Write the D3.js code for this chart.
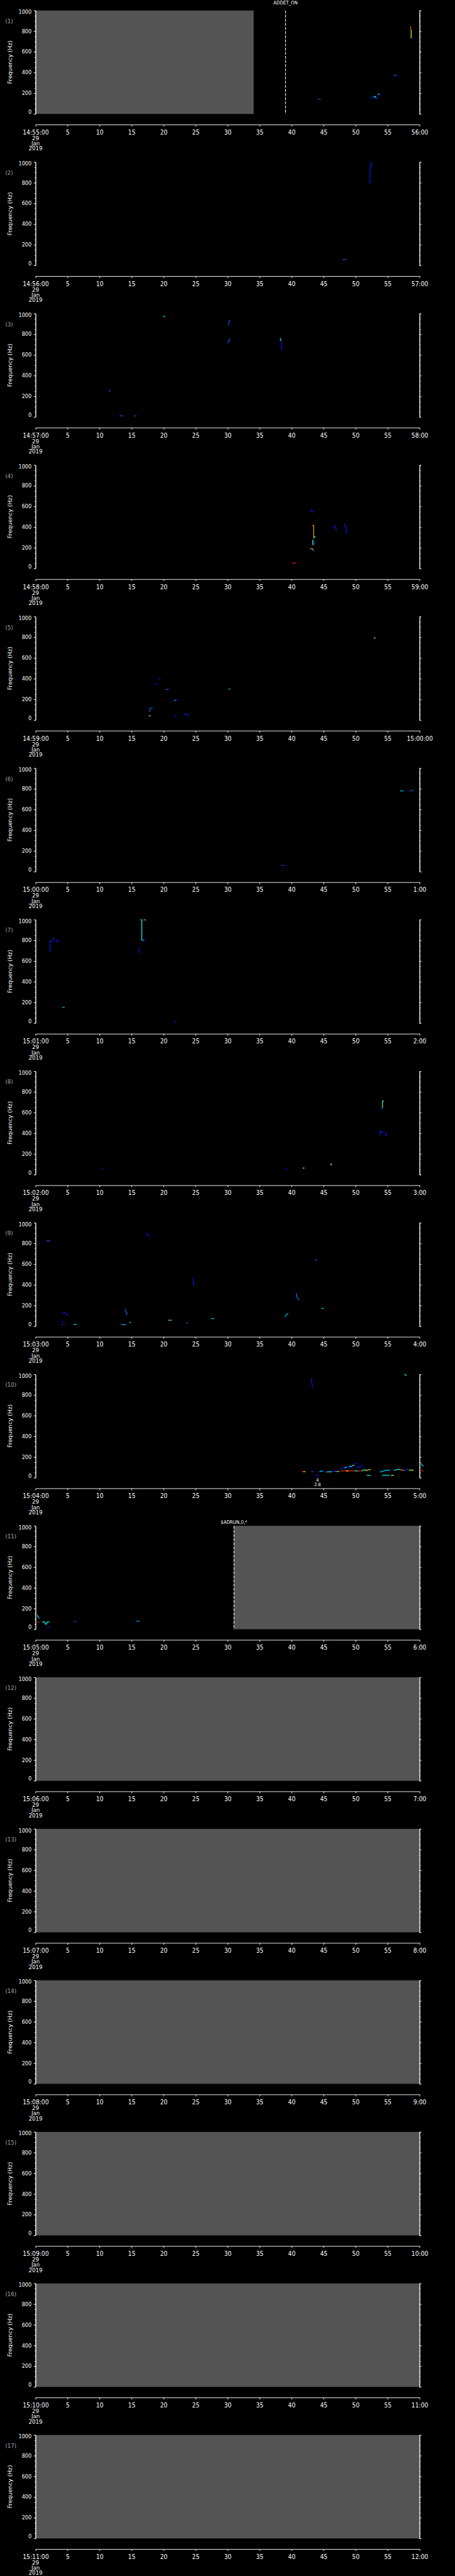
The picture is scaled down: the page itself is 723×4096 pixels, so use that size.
<!DOCTYPE html>
<html>
<head>
<meta charset="utf-8">
<script src="https://cdn.jsdelivr.net/npm/d3@7"></script>
<style>
  body { margin: 0; background: #000; }
  svg { display: block; }
</style>
</head>
<body>
<div id="chart"></div>
<script>
// start time of each one-minute panel, 29 Jan 2019
const panelStarts = ['14:55:00', '14:56:00', '14:57:00', '14:58:00', '14:59:00', '15:00:00',
  '15:01:00', '15:02:00', '15:03:00', '15:04:00', '15:05:00', '15:06:00', '15:07:00',
  '15:08:00', '15:09:00', '15:10:00', '15:11:00'];
const panelDate = '2019-01-29';

// y axis ticks (Hz)
const freqTicks = [0, 200, 400, 600, 800, 1000];
const freqMinor = d3.range(0, 1001, 50);
// x axis ticks (seconds into the minute)
const secTicks = d3.range(0, 61, 5);

// no-data (grey) spans: [panel, startSec, endSec]
const greySpans = [[1, 0, 34.07], [11, 31.0, 60], [12, 0, 60], [13, 0, 60], [14, 0, 60],
  [15, 0, 60], [16, 0, 60], [17, 0, 60]];

// event markers: [panel, sec, label, labelRow]
const events = [[1, 39.05, 'ADDET_ON', 0], [11, 31.0, '$ADRUN,0,*', 1]];

// small annotation under panel 10
const notes = [[10, 44.05, ['4', '2.8']]];

// detected tracks: p = panel, c = colour level (0..1), pts = [sec, Hz]
const traces = [
  {p: 1, c: .22, pts: [[44.2, 143], [44.5, 143]]},
  {p: 1, c: .15, pts: [[52.42, 154], [52.7, 154], [52.8, 166]]},
  {p: 1, c: .37, pts: [[52.86, 169], [53.1, 169], [53.16, 160], [53.16, 154]]},
  {p: 1, c: .15, pts: [[53.16, 153], [53.44, 153]]},
  {p: 1, c: .37, pts: [[53.5, 191], [53.7, 191]]},
  {p: 1, c: .15, pts: [[53.72, 186], [53.8, 179]]},
  {p: 1, c: .22, pts: [[56.0, 375], [56.4, 375]]},
  {p: 1, c: .8, pts: [[58.55, 845], [58.6, 845], [58.6, 812]]},
  {p: 1, c: .6, pts: [[58.68, 808], [58.68, 733]]},
  {p: 1, c: .15, pts: [[58.68, 731], [58.85, 729]]},

  {p: 2, c: .15, pts: [[52.42, 1000], [52.42, 950], [52.25, 942], [52.25, 805], [52.1, 802]]},
  {p: 2, c: .84, pts: [[48.05, 57], [48.2, 57]]},
  {p: 2, c: .2, pts: [[48.2, 57], [48.5, 57]]},

  {p: 3, c: .37, pts: [[20.0, 975], [20.2, 972]]},
  {p: 3, c: .22, pts: [[30.3, 935], [30.2, 905], [30.15, 891]]},
  {p: 3, c: .22, pts: [[30.3, 755], [30.25, 730], [30.0, 718]]},
  {p: 3, c: .37, pts: [[38.22, 760], [38.32, 735]]},
  {p: 3, c: .15, pts: [[38.38, 735], [38.42, 647]]},
  {p: 3, c: .22, pts: [[11.6, 260], [11.55, 246]]},
  {p: 3, c: .22, pts: [[13.2, 11], [13.6, 11]]},
  {p: 3, c: .22, pts: [[15.45, 11], [15.7, 11]]},

  {p: 4, c: .15, pts: [[43.05, 570], [43.1, 553], [43.3, 553], [43.4, 545]]},
  {p: 4, c: .72, pts: [[43.3, 417], [43.45, 417], [43.45, 295]]},
  {p: 4, c: .4, pts: [[43.5, 300], [43.7, 310]]},
  {p: 4, c: .45, pts: [[43.3, 275], [43.3, 230]]},
  {p: 4, c: .22, pts: [[43.5, 265], [43.5, 230]]},
  {p: 4, c: .72, pts: [[42.95, 190], [43.2, 195], [43.3, 182]]},
  {p: 4, c: .22, pts: [[43.4, 185], [43.5, 170]]},
  {p: 4, c: .84, pts: [[40.2, 54], [40.6, 54]]},
  {p: 4, c: .15, pts: [[46.6, 415], [46.7, 395], [46.9, 395], [47.0, 375]]},
  {p: 4, c: .15, pts: [[48.25, 430], [48.3, 410], [48.5, 405], [48.55, 342]]},

  {p: 5, c: .7, pts: [[52.9, 794], [53.1, 794]]},
  {p: 5, c: .15, pts: [[19.3, 394], [19.5, 394]]},
  {p: 5, c: .15, pts: [[18.6, 349], [18.9, 349]]},
  {p: 5, c: .22, pts: [[20.4, 296], [20.75, 296]]},
  {p: 5, c: .37, pts: [[30.2, 300], [30.35, 300]]},
  {p: 5, c: .33, pts: [[21.7, 193], [21.9, 190]]},
  {p: 5, c: .15, pts: [[21.9, 189], [22.2, 189]]},
  {p: 5, c: .84, pts: [[17.8, 84], [17.85, 84]]},
  {p: 5, c: .22, pts: [[17.85, 86], [17.9, 115], [18.25, 118]]},
  {p: 5, c: .62, pts: [[17.75, 41], [17.9, 41]]},
  {p: 5, c: .15, pts: [[21.7, 41], [22.0, 41]]},
  {p: 5, c: .15, pts: [[23.2, 55], [23.7, 55], [23.9, 42]]},

  {p: 6, c: .3, pts: [[57.0, 780], [57.45, 780]]},
  {p: 6, c: .22, pts: [[58.5, 779], [58.7, 782], [59.0, 789]]},
  {p: 6, c: .84, pts: [[38.47, 58], [38.6, 58]]},
  {p: 6, c: .15, pts: [[38.6, 58], [39.0, 58]]},

  {p: 7, c: .15, pts: [[2.25, 685], [2.25, 792], [2.6, 792], [2.85, 825]]},
  {p: 7, c: .15, pts: [[3.2, 790], [3.5, 790], [3.55, 808]]},
  {p: 7, c: .3, pts: [[4.2, 154], [4.5, 154]]},
  {p: 7, c: .15, pts: [[16.05, 722], [16.15, 710], [16.2, 680]]},
  {p: 7, c: .4, pts: [[16.45, 998], [16.6, 998], [16.6, 803], [16.9, 800]]},
  {p: 7, c: .15, pts: [[16.9, 797], [17.15, 795]]},
  {p: 7, c: .4, pts: [[16.95, 998], [17.15, 998]]},
  {p: 7, c: .15, pts: [[21.7, 13], [22.0, 13]]},

  {p: 8, c: .5, pts: [[54.2, 712], [54.2, 645]]},
  {p: 8, c: .4, pts: [[54.2, 712], [54.35, 712]]},
  {p: 8, c: .15, pts: [[54.12, 645], [54.05, 630]]},
  {p: 8, c: .15, pts: [[53.8, 380], [53.9, 424], [54.0, 410], [54.3, 410]]},
  {p: 8, c: .15, pts: [[54.6, 405], [54.75, 380], [54.85, 390]]},
  {p: 8, c: .15, pts: [[10.35, 58], [10.5, 58]]},
  {p: 8, c: .1, pts: [[38.85, 54], [39.2, 54]]},
  {p: 8, c: .62, pts: [[41.8, 64], [41.95, 64]]},
  {p: 8, c: .55, pts: [[46.15, 107], [46.2, 92]]},

  {p: 9, c: .22, pts: [[1.77, 826], [2.2, 826]]},
  {p: 9, c: .15, pts: [[17.3, 900], [17.5, 885], [17.6, 873], [17.7, 873]]},
  {p: 9, c: .15, pts: [[24.65, 467], [24.65, 398], [24.8, 396]]},
  {p: 9, c: .22, pts: [[43.7, 639], [43.95, 639]]},
  {p: 9, c: .25, pts: [[40.75, 314], [40.8, 290], [41.0, 262], [41.2, 255]]},
  {p: 9, c: .35, pts: [[44.75, 172], [44.95, 172]]},
  {p: 9, c: .3, pts: [[39.0, 90], [39.1, 105], [39.25, 118], [39.45, 120]]},
  {p: 9, c: .15, pts: [[4.3, 130], [4.6, 130], [4.7, 115], [4.85, 110], [5.0, 108]]},
  {p: 9, c: .25, pts: [[14.0, 162], [14.15, 140], [14.3, 112]]},
  {p: 9, c: .15, pts: [[4.2, 43], [4.5, 37]]},
  {p: 9, c: .22, pts: [[4.1, 13], [4.2, 13]]},
  {p: 9, c: .37, pts: [[6.05, 17], [6.35, 17]]},
  {p: 9, c: .3, pts: [[13.4, 19], [14.05, 12]]},
  {p: 9, c: .37, pts: [[14.7, 37], [14.85, 37]]},
  {p: 9, c: .45, pts: [[20.8, 58], [21.2, 58]]},
  {p: 9, c: .22, pts: [[23.6, 32], [23.8, 32]]},
  {p: 9, c: .33, pts: [[27.5, 73], [27.85, 73]]},

  {p: 10, c: .15, pts: [[43.1, 955], [43.15, 920], [43.27, 878]]},
  {p: 10, c: .37, pts: [[57.7, 1000], [57.9, 987]]},
  {p: 10, c: .37, pts: [[60.25, 136], [60.4, 120], [60.56, 112]]},
  {p: 10, c: .84, pts: [[60.25, 70], [60.5, 64]]},
  {p: 10, c: .84, pts: [[41.65, 60], [41.9, 60]]},
  {p: 10, c: .62, pts: [[41.9, 59], [42.1, 58]]},
  {p: 10, c: .2, pts: [[43.15, 63], [43.3, 60], [43.4, 57]]},
  {p: 10, c: .15, pts: [[43.8, 23], [44.2, 23]]},
  {p: 10, c: .35, pts: [[44.4, 60], [44.6, 64], [44.8, 64]]},
  {p: 10, c: .2, pts: [[44.8, 64], [45.0, 60], [45.1, 57]]},
  {p: 10, c: .84, pts: [[45.4, 56], [45.6, 57]]},
  {p: 10, c: .37, pts: [[45.6, 57], [46.1, 57], [46.3, 60]]},
  {p: 10, c: .15, pts: [[46.3, 62], [46.6, 64], [46.9, 63]]},
  {p: 10, c: .75, pts: [[46.9, 60], [47.2, 60]]},
  {p: 10, c: .37, pts: [[47.2, 62], [47.4, 62]]},
  {p: 10, c: .84, pts: [[47.65, 66], [49.9, 66]]},
  {p: 10, c: .62, pts: [[48.6, 66], [48.8, 66]]},
  {p: 10, c: .37, pts: [[49.9, 66], [50.4, 66]]},
  {p: 10, c: .84, pts: [[50.4, 66], [51.0, 66]]},
  {p: 10, c: .15, pts: [[47.7, 91], [48.35, 89]]},
  {p: 10, c: .37, pts: [[48.35, 96], [48.6, 103]]},
  {p: 10, c: .15, pts: [[48.7, 106], [49.05, 100]]},
  {p: 10, c: .37, pts: [[49.05, 111], [49.4, 107]]},
  {p: 10, c: .15, pts: [[49.46, 114], [49.46, 90]]},
  {p: 10, c: .5, pts: [[49.5, 119], [49.75, 119]]},
  {p: 10, c: .15, pts: [[49.8, 129], [50.0, 139], [50.2, 140]]},
  {p: 10, c: .15, pts: [[50.25, 114], [50.4, 107], [50.6, 99], [50.75, 110], [50.9, 113], [51.1, 113]]},
  {p: 10, c: .37, pts: [[51.0, 66], [51.2, 75], [51.5, 77], [51.6, 70]]},
  {p: 10, c: .62, pts: [[51.6, 70], [51.8, 72], [52.0, 77], [52.3, 78]]},
  {p: 10, c: .37, pts: [[51.8, 23], [52.3, 23]]},
  {p: 10, c: .33, pts: [[53.85, 60], [54.1, 57], [54.3, 63], [54.6, 70], [54.8, 74], [55.0, 67], [55.2, 72], [55.3, 74]]},
  {p: 10, c: .37, pts: [[54.2, 23], [55.3, 23]]},
  {p: 10, c: .62, pts: [[55.6, 23], [55.9, 23]]},
  {p: 10, c: .37, pts: [[56.0, 73], [56.3, 74], [56.6, 82], [56.9, 80]]},
  {p: 10, c: .75, pts: [[56.9, 76], [57.3, 76], [57.6, 69]]},
  {p: 10, c: .15, pts: [[57.6, 77], [58.0, 79], [58.4, 76]]},
  {p: 10, c: .6, pts: [[58.4, 74], [59.0, 74]]},

  {p: 11, c: .37, pts: [[0.27, 136], [0.54, 107]]},
  {p: 11, c: .84, pts: [[0.36, 70], [0.54, 67]]},
  {p: 11, c: .37, pts: [[1.05, 72], [1.4, 72], [1.5, 50], [1.7, 50], [1.8, 67], [2.1, 72]]},
  {p: 11, c: .15, pts: [[1.86, 23], [2.2, 23]]},
  {p: 11, c: .2, pts: [[6.07, 74], [6.34, 74]]},
  {p: 11, c: .3, pts: [[15.8, 77], [16.2, 77]]}
];

// reference is 1024 x 5802, drawn scaled into the window
const W = 1024, H = 5802;
const pitch = H / panelStarts.length;
const plotLeft = 80, plotRight = 944.4, plotTop = 23.7, plotBottom = 256.7, xAxisY = 280.7;
const condensed = "'DejaVu Sans Condensed', 'DejaVu Sans', sans-serif";

const svg = d3.select('#chart').append('svg')
  .attr('width', 723)
  .attr('height', 4096)
  .attr('viewBox', `0 0 ${W} ${H}`)
  .style('background', '#000');

const x = d3.scaleLinear().domain([0, 60]).range([plotLeft, plotRight]);
const y = d3.scaleLinear().domain([0, 1000]).range([plotBottom, plotTop]);

// jet-like colour table
const jet = d3.scaleLinear()
  .domain([0, 0.125, 0.375, 0.625, 0.875, 1])
  .range(['#00008f', '#0000ff', '#00ffff', '#ffff00', '#ff0000', '#800000']);

const line = d3.line().x(d => x(d[0])).y(d => y(d[1]));
const parse = d3.timeParse('%Y-%m-%d %H:%M:%S');

function styleAxis(g) {
  g.selectAll('path, line').attr('stroke', '#fff').attr('stroke-width', 1.3);
  g.selectAll('text').attr('fill', '#fff');
}

panelStarts.forEach(function (s, i) {
  const p = i + 1;
  const start = parse(panelDate + ' ' + s);
  const end = new Date(+start + 60000);
  const g = svg.append('g').attr('transform', 'translate(0,' + i * pitch + ')');

  // grey no-data spans
  g.selectAll('rect.nodata')
    .data(greySpans.filter(d => d[0] === p))
    .enter()
    .append('rect')
    .attr('x', d => x(d[1]))
    .attr('width', d => x(d[2]) - x(d[1]))
    .attr('y', plotTop)
    .attr('height', plotBottom - plotTop)
    .attr('fill', '#545454');

  // tracks
  g.selectAll('path.trace')
    .data(traces.filter(d => d.p === p))
    .enter()
    .append('path')
    .attr('class', 'trace')
    .attr('d', d => line(d.pts))
    .attr('fill', 'none')
    .attr('stroke', d => jet(d.c))
    .attr('stroke-width', 1.7)
    .attr('stroke-linecap', 'square');

  // event markers
  const ev = g.selectAll('g.event')
    .data(events.filter(d => d[0] === p))
    .enter()
    .append('g');
  ev.append('line')
    .attr('x1', d => x(d[1])).attr('x2', d => x(d[1]))
    .attr('y1', plotTop).attr('y2', plotBottom)
    .attr('stroke', '#fff')
    .attr('stroke-width', 1.5)
    .attr('stroke-dasharray', '6.5,2.8');
  ev.append('text')
    .attr('x', d => x(d[1]))
    .attr('y', d => (d[3] === 0 ? 6.3 : 15.5))
    .attr('dy', '0.36em')
    .attr('text-anchor', 'middle')
    .attr('fill', '#fff')
    .style('font-family', condensed)
    .style('font-stretch', 'condensed')
    .style('font-size', '11px')
    .text(d => d[2]);

  // annotations
  notes.filter(d => d[0] === p).forEach(function (n) {
    n[2].forEach(function (t, k) {
      g.append('text')
        .attr('x', x(n[1]))
        .attr('y', 262.5 + k * 9.5)
        .attr('dy', '0.36em')
        .attr('text-anchor', 'middle')
        .attr('fill', '#fff')
        .style('font-family', condensed)
        .style('font-stretch', 'condensed')
        .style('font-size', '10.5px')
        .text(t);
    });
  });

  // left axis: minor then major
  g.append('g')
    .attr('transform', 'translate(' + plotLeft + ',0)')
    .call(d3.axisLeft(y).tickValues(freqMinor).tickSize(2.3).tickSizeOuter(0).tickFormat(''))
    .call(styleAxis);
  const ya = g.append('g')
    .attr('transform', 'translate(' + plotLeft + ',0)')
    .call(d3.axisLeft(y).tickValues(freqTicks).tickSize(4).tickPadding(5).tickSizeOuter(0)
      .tickFormat(d3.format('d')))
    .call(styleAxis);
  ya.selectAll('text')
    .attr('y', d => (d === 1000 ? 3.6 : d === 0 ? -4.4 : 0))
    .style('font-family', "'DejaVu Sans', sans-serif")
    .style('font-size', '11.5px');

  // right axis
  g.append('g')
    .attr('transform', 'translate(' + plotRight + ',0)')
    .call(d3.axisRight(y).tickValues(freqMinor).tickSize(2.3).tickSizeOuter(0).tickFormat(''))
    .call(styleAxis);
  g.append('g')
    .attr('transform', 'translate(' + plotRight + ',0)')
    .call(d3.axisRight(y).tickValues(freqTicks).tickSize(4).tickSizeOuter(0).tickFormat(''))
    .call(styleAxis);

  // time axis below the panel
  const endFmt = end.getMinutes() === 0 ? d3.timeFormat('%H:%M:%S') : d3.timeFormat('%-M:%S');
  const xa = g.append('g')
    .attr('transform', 'translate(0,' + xAxisY + ')')
    .call(d3.axisBottom(x).tickValues(secTicks).tickSize(4.3).tickPadding(7.5).tickSizeOuter(0)
      .tickFormat(d => (d === 0 ? d3.timeFormat('%H:%M:%S')(start) : d === 60 ? endFmt(end) : String(d))))
    .call(styleAxis);
  xa.selectAll('text')
    .style('font-family', condensed)
    .style('font-stretch', 'condensed')
    .style('font-size', '14.5px');

  // date lines under first tick
  [d3.timeFormat('%d')(start), d3.timeFormat('%b')(start), d3.timeFormat('%Y')(start)]
    .forEach(function (t, k) {
      g.append('text')
        .attr('x', plotLeft)
        .attr('y', 310.7 + k * 11.8)
        .attr('dy', '0.36em')
        .attr('text-anchor', 'middle')
        .attr('fill', '#fff')
        .style('font-family', condensed)
        .style('font-stretch', 'condensed')
        .style('font-size', '13.5px')
        .text(t);
    });

  // y title and panel number
  g.append('text')
    .attr('transform', 'translate(27.3,' + (plotTop + plotBottom) / 2 + ') rotate(-90)')
    .attr('text-anchor', 'middle')
    .attr('fill', '#fff')
    .style('font-family', "'DejaVu Sans', sans-serif")
    .style('font-size', '13px')
    .text('Frequency (Hz)');
  g.append('text')
    .attr('x', 12)
    .attr('y', 47.3)
    .attr('dy', '0.36em')
    .attr('fill', '#a8a8a8')
    .style('font-family', condensed)
    .style('font-stretch', 'condensed')
    .style('font-size', '13.5px')
    .text('(' + p + ')');
});
</script>
</body>
</html>
